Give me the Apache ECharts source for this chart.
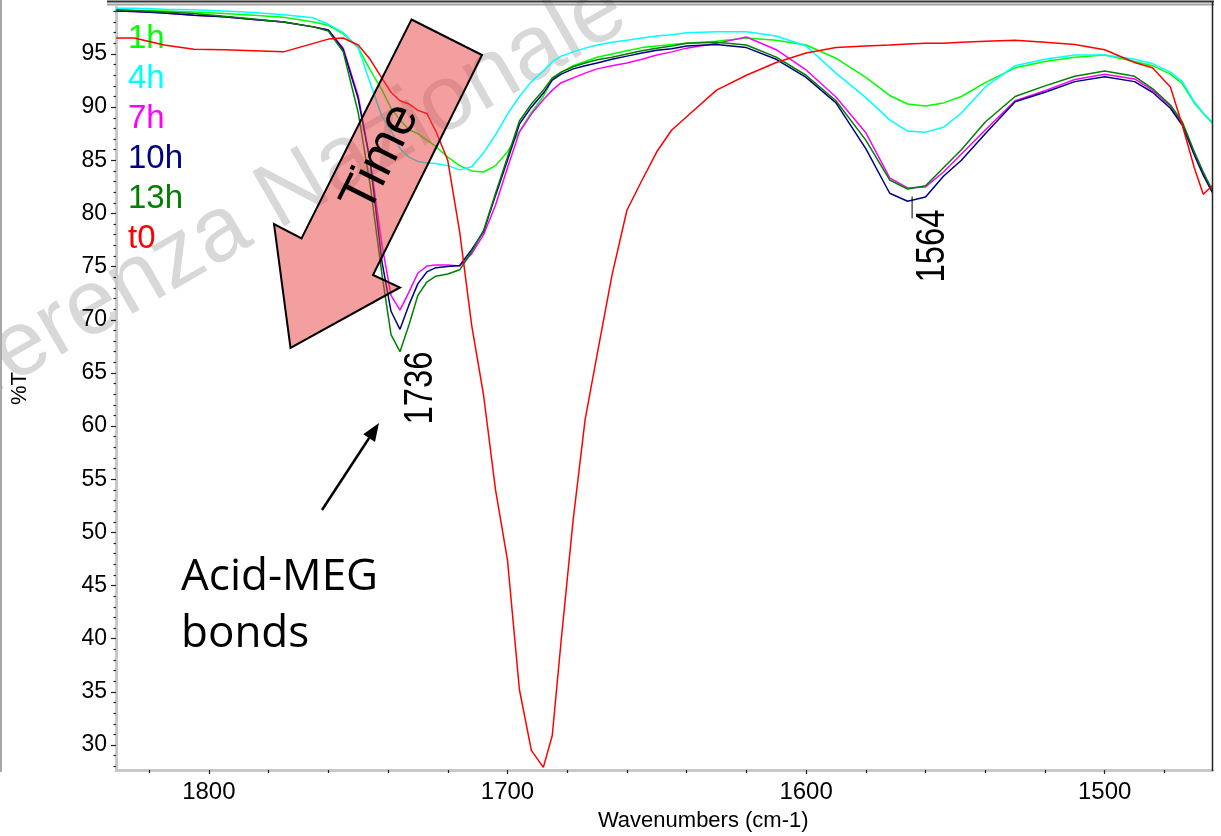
<!DOCTYPE html>
<html>
<head>
<meta charset="utf-8">
<script src="https://cdn.jsdelivr.net/npm/echarts@6/dist/echarts.min.js"></script>
<style>
html,body{margin:0;padding:0;background:#fff;}
#chart{width:1221px;height:836px;}
</style>
</head>
<body>
<div id="chart"></div>
<script>
// ---- data (wavenumber in cm-1, %T) ----
const wavenumbers = [1831,1825,1815,1805,1795,1785,1775,1765,1760,1755,
  1750,1746,1742,1739,1736,1733,1730,1727,1724,1720,
  1716,1712,1708,1704,1700,1696,1692,1688,1685,1682,
  1678,1674,1670,1665,1660,1655,1650,1645,1640,1630,
  1620,1610,1600,1590,1580,1572,1566,1560,1554,1548,
  1540,1530,1520,1510,1500,1490,1484,1478,1474,1470,
  1467,1464];

const t1h = [99.15,99.1,99.05,98.95,98.8,98.65,98.45,98.0,97.7,96.9,
  95.6,93.5,91.6,89.9,88.8,87.9,87.5,86.9,86.3,85.3,
  84.5,84.0,83.9,84.5,85.8,87.7,89.5,91.0,92.6,93.3,
  93.9,94.3,94.7,95.0,95.3,95.6,95.75,95.9,96.0,96.2,
  96.5,96.3,95.85,94.6,92.8,91.1,90.3,90.1,90.4,91.0,
  92.3,93.7,94.3,94.7,94.9,94.3,93.9,93.1,92.2,90.4,
  89.4,88.5];

const t4h = [99.3,99.3,99.2,99.15,99.05,98.9,98.7,98.4,97.8,97.0,
  95.6,92.3,89.1,87.8,86.1,85.3,84.9,84.75,84.7,84.5,
  84.1,84.4,85.7,87.4,89.35,91.0,92.4,93.4,94.25,94.8,
  95.2,95.55,95.85,96.1,96.3,96.5,96.7,96.8,97.0,97.1,
  97.1,96.7,95.75,93.2,90.9,88.8,87.75,87.65,88.1,89.45,
  91.9,93.9,94.5,94.9,94.9,94.5,94.1,93.3,92.4,90.5,
  89.45,88.6];

const t7h = [99.05,99.0,98.85,98.65,98.5,98.25,98.0,97.55,97.25,95.55,
  91.05,85.0,77.0,72.3,70.9,72.6,74.4,75.05,75.15,75.15,
  75.05,76.2,78.0,80.8,84.3,87.65,89.35,90.7,91.6,92.3,
  92.75,93.2,93.6,93.9,94.15,94.5,94.9,95.2,95.55,96.0,
  96.6,95.4,93.5,90.95,87.6,83.35,82.4,82.5,83.9,85.6,
  87.85,90.6,91.55,92.6,93.1,92.65,91.6,90.1,88.4,85.7,
  83.8,82.0];

const t10h = [99.05,99.0,98.85,98.65,98.5,98.25,98.0,97.55,97.25,95.4,
  90.8,84.9,75.4,70.8,69.1,71.4,73.4,74.5,74.9,75.0,
  75.1,76.6,78.3,81.7,85.0,88.4,90.0,91.3,92.55,93.1,
  93.6,93.9,94.15,94.5,94.8,95.1,95.35,95.5,95.75,95.9,
  95.6,94.5,92.8,90.4,86.1,81.9,81.15,81.55,83.5,85.0,
  87.5,90.5,91.4,92.4,92.85,92.4,91.4,89.9,88.3,85.5,
  83.6,82.0];

const t13h = [99.15,99.1,98.95,98.8,98.55,98.3,98.0,97.55,97.15,95.2,
  89.5,82.7,74.2,68.6,67.0,69.5,72.3,73.55,74.1,74.3,
  74.7,76.4,78.4,81.9,85.3,88.7,90.3,91.6,92.75,93.3,
  93.8,94.15,94.45,94.7,95.0,95.3,95.55,95.75,96.0,96.1,
  95.85,94.7,93.0,90.6,86.9,83.15,82.3,82.6,84.3,86.0,
  88.6,91.0,92.0,92.9,93.4,92.9,91.75,90.2,88.6,85.8,
  83.9,82.2];

const t0 = [96.5,96.5,95.85,95.45,95.4,95.3,95.2,96.0,96.4,96.5,
  95.85,94.5,92.7,91.4,90.6,90.3,89.7,89.4,87.75,85.0,
  78.25,69.5,62.9,54.0,47.4,35.2,29.5,27.9,30.9,39.9,
  51.2,60.6,66.7,74.2,80.3,83.1,85.8,87.85,89.1,91.6,
  93.0,94.2,95.1,95.6,95.75,95.85,95.95,96.0,96.0,96.1,
  96.2,96.3,96.1,95.9,95.4,94.2,93.7,91.9,88.3,84.3,
  81.8,82.6];

const seriesNames = ['1h','4h','7h','10h','13h','t0'];
const seriesValues = [t1h, t4h, t7h, t10h, t13h, t0];
const seriesColors = ['#00ff00','#00ffff','#ff00ff','#000080','#008000','#ff0000'];

const xTickLabels = [1500, 1600, 1700, 1800];
const xMinorTicks = [1480,1520,1540,1560,1580,1620,1640,1660,1680,1720,1740,1760,1780,1820];
const yTickLabels = [30,35,40,45,50,55,60,65,70,75,80,85,90,95];
const yMinorTicks = [];
for (let v = 28; v <= 99; v++) if (v % 5 !== 0) yMinorTicks.push(v);

const peakLabels = ['1736', '1564'];
const peakWavenumbers = [1736, 1564.5];

// ---- chart ----
const ARIAL = "'Liberation Sans',Arial,sans-serif";
const chart = echarts.init(document.getElementById('chart'), null, {renderer: 'canvas'});

const X_MIN = 1463.9, X_MAX = 1831.1, Y_MIN = 27.65, Y_MAX = 99.42;

const option = {
  animation: false,
  backgroundColor: '#ffffff',
  grid: {left: 116, right: 8.5, top: 7, bottom: 66, containLabel: false, outerBoundsMode: 'none'},
  legend: {
    orient: 'vertical', left: 117, top: 14,
    itemWidth: 0, itemHeight: 0, itemGap: 0,
    selectedMode: false,
    itemStyle: {opacity: 0}, lineStyle: {opacity: 0},
    textStyle: {fontFamily: ARIAL, fontSize: 33, lineHeight: 40},
    data: seriesNames.map((n, i) => ({name: n, textStyle: {color: seriesColors[i]}}))
  },
  xAxis: [{
    type: 'value', inverse: true, min: X_MIN, max: X_MAX,
    name: 'Wavenumbers (cm-1)', nameLocation: 'middle', nameGap: 40,
    nameTextStyle: {fontFamily: ARIAL, fontSize: 22, color: '#000', padding: [0, 0, 0, 78]},
    axisLine: {show: true, lineStyle: {color: '#c8c8c8', width: 3}},
    axisTick: {show: true, length: 4, lineStyle: {color: '#222', width: 1.2}, customValues: xTickLabels},
    axisLabel: {fontFamily: ARIAL, fontSize: 24, color: '#000', margin: 10, customValues: xTickLabels,
                formatter: v => String(v)},
    splitLine: {show: false}
  }, {
    type: 'value', inverse: true, min: X_MIN, max: X_MAX, position: 'bottom',
    axisLine: {show: false},
    axisTick: {show: true, length: 3, lineStyle: {color: '#222', width: 1.2}, customValues: xMinorTicks},
    axisLabel: {show: false},
    splitLine: {show: false}
  }],
  yAxis: [{
    type: 'value', min: Y_MIN, max: Y_MAX,
    name: '%T', nameLocation: 'middle', nameGap: 85, nameRotate: 90,
    nameTextStyle: {fontFamily: ARIAL, fontSize: 22, color: '#000'},
    axisLine: {show: true, lineStyle: {color: '#c8c8c8', width: 3}},
    axisTick: {show: true, length: 5, lineStyle: {color: '#222', width: 1.2}, customValues: yTickLabels},
    axisLabel: {fontFamily: ARIAL, fontSize: 23, color: '#000', margin: 9, customValues: yTickLabels,
                formatter: v => String(v)},
    splitLine: {show: false}
  }, {
    type: 'value', min: Y_MIN, max: Y_MAX, position: 'left',
    axisLine: {show: false},
    axisTick: {show: true, length: 2.5, lineStyle: {color: '#222', width: 1.2}, customValues: yMinorTicks},
    axisLabel: {show: false},
    splitLine: {show: false}
  }],
  series: seriesNames.map((n, i) => ({
    name: n, type: 'line', xAxisIndex: 0, yAxisIndex: 0,
    showSymbol: false, symbol: 'none',
    color: seriesColors[i],
    lineStyle: {color: seriesColors[i], width: 1.5},
    z: 3 + i,
    data: wavenumbers.map((w, k) => [w, seriesValues[i][k]])
  }))
};
chart.setOption(option);

// ---- annotations ----
const px = (w, v) => chart.convertToPixel({xAxisIndex: 0, yAxisIndex: 0}, [w, v]);
const gfx = [];

// watermark (underneath the curves)
gfx.push({
  type: 'text', z: 0, x: 225, y: 231, rotation: Math.PI / 6,
  style: {text: 'Conferenza Nazionale', fill: '#d8d8d8', fontFamily: ARIAL, fontSize: 92,
          align: 'center', verticalAlign: 'middle'}
});

// frame lines
gfx.push({type: 'line', z: 20, shape: {x1: 1, y1: 0, x2: 1, y2: 772}, style: {stroke: '#a8a8a8', lineWidth: 2}});
gfx.push({type: 'line', z: 20, shape: {x1: 107, y1: 1.5, x2: 1214, y2: 1.5}, style: {stroke: '#333', lineWidth: 2}});
gfx.push({type: 'line', z: 20, shape: {x1: 107, y1: 4.5, x2: 1214, y2: 4.5}, style: {stroke: '#a0a0a0', lineWidth: 2}});
gfx.push({type: 'line', z: 20, shape: {x1: 1212.5, y1: 2, x2: 1212.5, y2: 771}, style: {stroke: '#222', lineWidth: 1.5}});

// peak labels (condensed text, reading bottom to top)
peakLabels.forEach((lab, i) => {
  const p = px(peakWavenumbers[i], 60);
  const centerY = i === 0 ? 388 : 246;
  gfx.push({
    type: 'text', z: 15, x: p[0] + 21, y: centerY, rotation: Math.PI / 2, scaleX: 0.82,
    style: {text: lab, fill: '#000', fontFamily: ARIAL, fontSize: 40, align: 'center', verticalAlign: 'middle'}
  });
});
// tick at 1564 peak
{
  const p = px(peakWavenumbers[1], 81.6);
  gfx.push({type: 'line', z: 15, shape: {x1: p[0], y1: p[1], x2: p[0], y2: p[1] + 22}, style: {stroke: '#000', lineWidth: 1}});
}

// big "Time" arrow (semi-transparent)
gfx.push({
  type: 'polygon', z: 30,
  shape: {points: [[411.5, 19.5], [482, 55], [373, 275], [400, 287.5], [290.5, 348], [274, 224], [301.5, 238.5]]},
  style: {fill: 'rgba(232,64,64,0.5)', stroke: '#000', lineWidth: 2}
});
gfx.push({
  type: 'text', z: 31, x: 381, y: 158, rotation: 63.5 * Math.PI / 180,
  style: {text: 'Time', fill: '#000', fontFamily: ARIAL, fontSize: 52, align: 'center', verticalAlign: 'middle'}
});

// small pointer arrow
{
  const x1 = 322, y1 = 510, x2 = 379, y2 = 423;
  const ang = Math.atan2(y2 - y1, x2 - x1);
  const hl = 18, hw = 7;
  const bx = x2 - hl * Math.cos(ang), by = y2 - hl * Math.sin(ang);
  gfx.push({type: 'line', z: 15, shape: {x1, y1, x2: bx, y2: by}, style: {stroke: '#000', lineWidth: 2.5}});
  gfx.push({type: 'polygon', z: 15, shape: {points: [
    [x2, y2],
    [bx + hw * Math.sin(ang), by - hw * Math.cos(ang)],
    [bx - hw * Math.sin(ang), by + hw * Math.cos(ang)]
  ]}, style: {fill: '#000'}});
}
gfx.push({type: 'text', z: 15, x: 181, y: 577, style: {text: 'Acid-MEG', fill: '#000', fontFamily: "'Open Sans',sans-serif", fontSize: 44, verticalAlign: 'middle'}});
gfx.push({type: 'text', z: 15, x: 181, y: 634, style: {text: 'bonds', fill: '#000', fontFamily: "'Open Sans',sans-serif", fontSize: 44, verticalAlign: 'middle'}});

chart.setOption({graphic: gfx});
</script>
</body>
</html>
